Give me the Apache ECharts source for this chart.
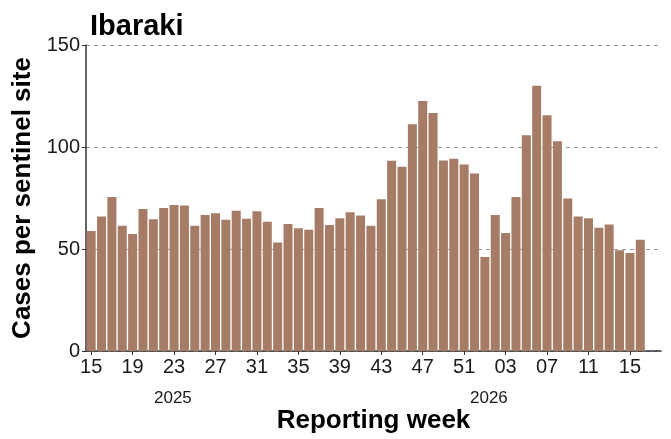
<!DOCTYPE html>
<html>
<head>
<meta charset="utf-8">
<script src="https://cdn.jsdelivr.net/npm/echarts@6/dist/echarts.min.js"></script>
<style>
  html, body { margin: 0; padding: 0; background: #fff; }
  #chart { width: 671px; height: 439px; }
</style>
</head>
<body>
<div id="chart"></div>
<script>
// reporting weeks: 2025 wk15..52, then 2026 wk01..16
const weeks = [
  '15', '16', '17', '18', '19', '20', '21', '22', '23', '24', '25', '26', '27', '28',
  '29', '30', '31', '32', '33', '34', '35', '36', '37', '38', '39', '40', '41', '42',
  '43', '44', '45', '46', '47', '48', '49', '50', '51', '52',
  '01', '02', '03', '04', '05', '06', '07', '08', '09', '10', '11', '12', '13', '14', '15', '16'
];
const cases = [
  58.8, 65.9, 75.5, 61.4, 57.3, 69.6, 64.6, 70.1, 71.6, 71.3, 61.4, 66.7, 67.5, 64.3,
  68.7, 64.8, 68.5, 63.3, 53.2, 62.2, 60.2, 59.4, 70.1, 61.8, 65.1, 68.0, 66.4, 61.4,
  74.4, 93.2, 90.3, 111.2, 122.6, 116.7, 93.4, 94.3, 91.4, 87.0,
  46.1, 66.7, 57.8, 75.5, 105.8, 130.0, 115.6, 102.8, 74.8, 65.9, 65.1, 60.4, 62.0, 49.4, 48.1, 54.5
];
const tickIdx = [0, 4, 8, 12, 16, 20, 24, 28, 32, 36, 40, 44, 48, 52];
const yearLabels = ['2025', '2026'];

const FONT = 'Liberation Sans, Arial, sans-serif';
const chart = echarts.init(document.getElementById('chart'), null, { renderer: 'canvas' });

const option = {
  animation: false,
  backgroundColor: '#fff',
  title: {
    text: 'Ibaraki',
    left: 85,
    top: 7,
    textStyle: { fontFamily: FONT, fontSize: 29, fontWeight: 'bold', color: '#000' }
  },
  grid: { left: 86, right: 10, top: 45, bottom: 86, containLabel: false },
  xAxis: {
    type: 'value',
    min: -0.5,
    max: 55,
    name: 'Reporting week',
    nameLocation: 'middle',
    nameGap: 57,
    nameTextStyle: { fontFamily: FONT, fontSize: 26, fontWeight: 'bold', color: '#000' },
    axisLine: { show: true, onZero: false, lineStyle: { color: '#333', width: 1.5 } },
    axisTick: { show: true, length: 4, customValues: tickIdx, lineStyle: { color: '#333' } },
    axisLabel: {
      customValues: tickIdx,
      formatter: v => weeks[v],
      margin: 6,
      fontFamily: FONT, fontSize: 20, color: '#1a1a1a'
    },
    splitLine: { show: false }
  },
  yAxis: {
    type: 'value',
    min: 0,
    max: 150,
    interval: 50,
    name: 'Cases per sentinel site',
    nameLocation: 'middle',
    nameRotate: 90,
    nameGap: 48,
    nameTextStyle: { fontFamily: FONT, fontSize: 26, fontWeight: 'bold', color: '#000' },
    axisLine: { show: true, onZero: false, lineStyle: { color: '#333', width: 1.5 } },
    axisTick: { show: true, length: 4, lineStyle: { color: '#333' } },
    axisLabel: { margin: 6, fontFamily: FONT, fontSize: 20, color: '#1a1a1a' },
    splitLine: { show: true, lineStyle: { color: '#999', type: [4, 4], width: 1 } }
  },
  graphic: [
    { type: 'text', left: 154, top: 390, style: { text: yearLabels[0], font: '17px ' + FONT, fill: '#1a1a1a' } },
    { type: 'text', left: 470, top: 390, style: { text: yearLabels[1], font: '17px ' + FONT, fill: '#1a1a1a' } }
  ],
  series: [{
    type: 'bar',
    data: cases.map((v, i) => [i, v]),
    barWidth: 9,
    itemStyle: { color: '#a67c66' }
  }]
};

chart.setOption(option);
</script>
</body>
</html>
